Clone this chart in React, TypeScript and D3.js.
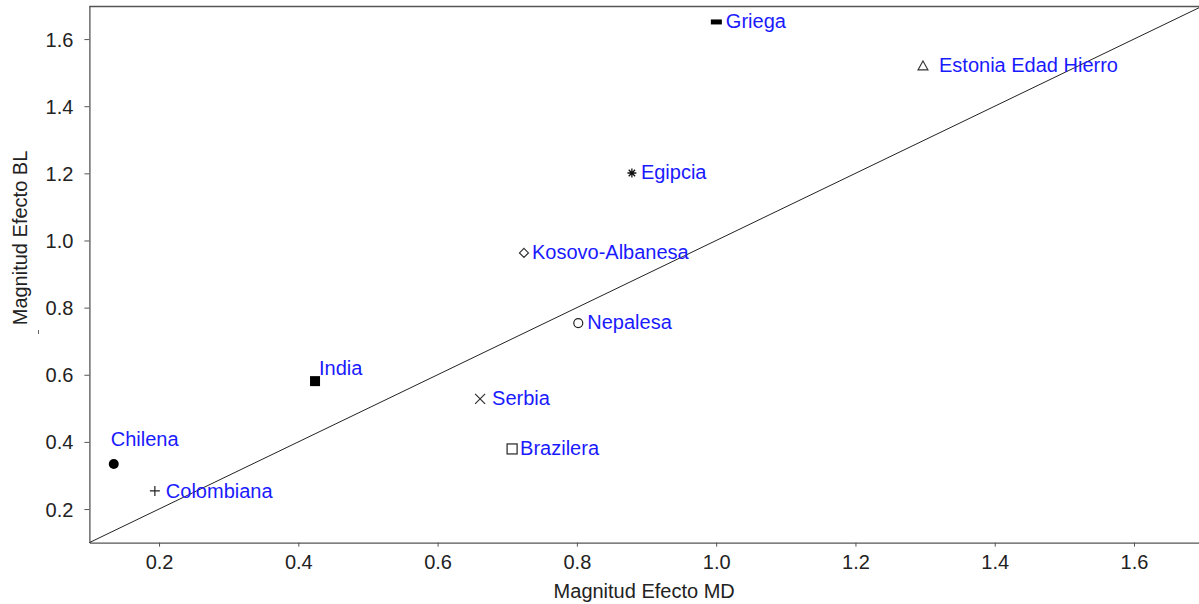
import React, { useEffect, useRef } from "react";
import * as d3 from "d3";

// groups and their effect magnitudes (MD on x, BL on y)
const names = [
  "Chilena",
  "Colombiana",
  "India",
  "Serbia",
  "Brazilera",
  "Nepalesa",
  "Kosovo-Albanesa",
  "Egipcia",
  "Griega",
  "Estonia Edad Hierro",
];
const efectoMD = [0.135, 0.194, 0.424, 0.661, 0.707, 0.802, 0.724, 0.879, 1.001, 1.297];
const efectoBL = [0.334, 0.254, 0.581, 0.528, 0.379, 0.754, 0.963, 1.201, 1.651, 1.52];
const markers = ["dotFill", "plus", "squareFill", "cross", "square", "circle", "diamond", "star", "dash", "triangle"];

const ticks = [0.2, 0.4, 0.6, 0.8, 1.0, 1.2, 1.4, 1.6];

// label placement relative to the marker
const labelDx = [-3, 11, 4, 12, 8, 9, 8, 9, 9, 16];
const labelDy = [-18, 7, -6, 6, 6, 6, 6, 6, 6, 6];

const W = 1199;
const H = 604;
const left = 89.4;
const top = 5.5;
const bottom = 542.6;

const App = () => {
  const ref = useRef<SVGSVGElement>(null);

  useEffect(() => {
    const svg = d3.select(ref.current);
    svg.selectAll("*").remove();

    const x = d3.scaleLinear().domain([0.1, 1.7]).range([left, left + 1.6 * 696.4]);
    const y = d3.scaleLinear().domain([0.1, 1.7]).range([bottom, top]);

    const font = "'Liberation Sans', Arial, sans-serif";
    const fs = 20;

    // frame: top + left + bottom
    svg.append("line").attr("x1", left).attr("x2", W).attr("y1", y(1.7) + 1).attr("y2", y(1.7) + 1)
      .attr("stroke", "#555").attr("stroke-width", 1.3);

    const xAxis = svg.append("g").attr("transform", `translate(0,${bottom})`)
      .call(d3.axisBottom(x).tickValues(ticks).tickSize(4).tickSizeOuter(0).tickFormat(d3.format(".1f")));
    xAxis.select(".domain").attr("stroke", "#555").attr("stroke-width", 1.3);
    xAxis.selectAll(".tick line").attr("stroke", "#555");
    xAxis.selectAll("text").attr("font-family", font).attr("font-size", fs).attr("fill", "#222").attr("dy", "0.95em");

    const yAxis = svg.append("g").attr("transform", `translate(${left},0)`)
      .call(d3.axisLeft(y).tickValues(ticks).tickSize(5).tickSizeOuter(0).tickFormat(d3.format(".1f")));
    yAxis.select(".domain").attr("stroke", "#555").attr("stroke-width", 1.3);
    yAxis.selectAll(".tick line").attr("stroke", "#555");
    yAxis.selectAll("text").attr("font-family", font).attr("font-size", fs).attr("fill", "#222").attr("x", -16).attr("dy", "0.35em");

    // reference line y = x
    svg.append("line")
      .attr("x1", x(0.1)).attr("y1", y(0.1))
      .attr("x2", x(1.7)).attr("y2", y(1.7))
      .attr("stroke", "#222").attr("stroke-width", 1);

    // axis titles
    svg.append("text").attr("x", (left + W) / 2).attr("y", 598)
      .attr("text-anchor", "middle").attr("font-family", font).attr("font-size", fs).attr("fill", "#222")
      .text("Magnitud Efecto MD");
    svg.append("text").attr("transform", `translate(27,238) rotate(-90)`)
      .attr("text-anchor", "middle").attr("font-family", font).attr("font-size", fs).attr("fill", "#222")
      .text("Magnitud Efecto BL");
    // stray mark under the y title
    svg.append("line").attr("x1", 38.5).attr("x2", 38.5).attr("y1", 330).attr("y2", 334)
      .attr("stroke", "#666").attr("stroke-width", 1);

    const pts = svg.append("g");
    names.forEach((n, i) => {
      const cx = x(efectoMD[i]);
      const cy = y(efectoBL[i]);
      const g = pts.append("g").attr("transform", `translate(${cx},${cy})`);
      const m = markers[i];
      if (m === "dotFill") g.append("circle").attr("r", 5).attr("fill", "#000");
      if (m === "circle") g.append("circle").attr("r", 4.5).attr("fill", "none").attr("stroke", "#222").attr("stroke-width", 1.2);
      if (m === "squareFill") g.append("rect").attr("x", -5).attr("y", -5).attr("width", 10).attr("height", 10).attr("fill", "#000");
      if (m === "square") g.append("rect").attr("x", -5).attr("y", -5).attr("width", 10).attr("height", 10).attr("fill", "none").attr("stroke", "#333").attr("stroke-width", 1.3);
      if (m === "dash") g.append("rect").attr("x", -6).attr("y", -2.5).attr("width", 11).attr("height", 5).attr("fill", "#000");
      if (m === "plus") g.append("path").attr("d", "M-5,0H5M0,-5V5").attr("stroke", "#222").attr("stroke-width", 1.2);
      if (m === "cross") g.append("path").attr("d", "M-5,-5L5,5M-5,5L5,-5").attr("stroke", "#333").attr("stroke-width", 1.2);
      if (m === "diamond") g.append("path").attr("d", "M0,-4.5L4.5,0L0,4.5L-4.5,0Z").attr("fill", "none").attr("stroke", "#333").attr("stroke-width", 1.2);
      if (m === "triangle") g.append("path").attr("d", "M0,-5L5,4L-5,4Z").attr("fill", "none").attr("stroke", "#333").attr("stroke-width", 1.1);
      if (m === "star") g.append("path").attr("d", "M-4.5,0H4.5M0,-4.5V4.5M-3.2,-3.2L3.2,3.2M-3.2,3.2L3.2,-3.2").attr("stroke", "#111").attr("stroke-width", 1.3);

      pts.append("text")
        .attr("x", cx + labelDx[i]).attr("y", cy + labelDy[i])
        .attr("font-family", font).attr("font-size", fs).attr("fill", "#1a1aff")
        .text(n);
    });
  }, []);

  return (
    <svg ref={ref} width={W} height={H} style={{ position: "absolute", left: 0, top: 0, background: "#fff" }} />
  );
};

export default App;
